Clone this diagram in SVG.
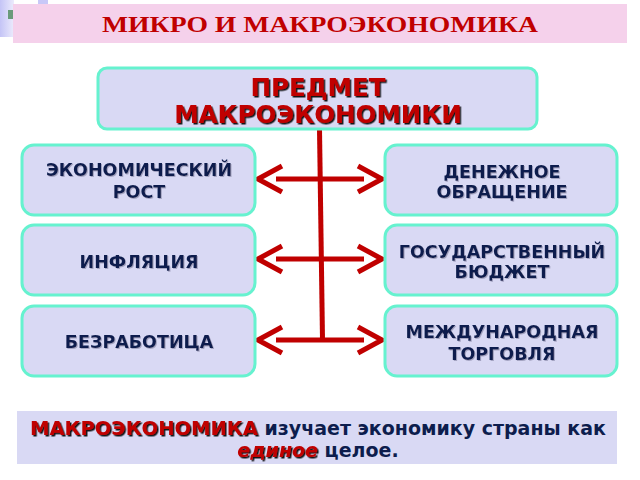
<svg xmlns="http://www.w3.org/2000/svg" width="640" height="480" viewBox="0 0 640 480">
  <defs>
    <linearGradient id="lav" x1="0" y1="0" x2="1" y2="0">
      <stop offset="0" stop-color="#c4c4f6"/>
      <stop offset="1" stop-color="#ecebfc"/>
    </linearGradient>
    <filter id="shRed" x="-5%" y="-20%" width="110%" height="150%">
      <feDropShadow dx="1.5" dy="1.5" stdDeviation="0.4" flood-color="#000000" flood-opacity="0.9"/>
    </filter>
    <filter id="shNavy" x="-5%" y="-20%" width="110%" height="150%">
      <feDropShadow dx="1" dy="1" stdDeviation="0.4" flood-color="#8080a0" flood-opacity="0.6"/>
    </filter>
  </defs>
  <style>
    .box { fill: #d9d9f4; stroke: #66f2cf; stroke-width: 3; }
    .lbl { font-family: "DejaVu Sans", Verdana, sans-serif; font-weight: bold; font-size: 17.5px; fill: #0d1d4d; text-anchor: middle; filter: url(#shNavy); }
    .red { font-family: "DejaVu Sans", Verdana, sans-serif; font-weight: bold; fill: #c00000; filter: url(#shRed); }
    .con { fill: none; stroke: #c00000; stroke-width: 5; stroke-linecap: butt; stroke-linejoin: miter; }
    .body { font-family: "DejaVu Sans", Verdana, sans-serif; font-weight: bold; font-size: 19px; fill: #0d1d4d; }
  </style>
  <rect width="640" height="480" fill="#ffffff"/>

  <!-- decoration -->
  <rect x="0" y="0" width="14" height="37" fill="url(#lav)"/>
  <rect x="38" y="0" width="10" height="5" fill="#c8c8f8"/>
  <rect x="8" y="10" width="6" height="9" fill="#6a9a7a"/>

  <g id="title">
    <rect x="13" y="4" width="614" height="39" fill="#f5d1eb"/>
    <text x="320" y="32" font-family="'Liberation Serif', 'Times New Roman', serif" font-weight="bold" font-size="23" fill="#c00000" text-anchor="middle" textLength="436" lengthAdjust="spacingAndGlyphs">МИКРО И МАКРОЭКОНОМИКА</text>
  </g>

  <g id="connectors">
    <line class="con" x1="319.5" y1="129" x2="322.5" y2="340"/>
    <line class="con" x1="276" y1="179" x2="364" y2="179"/>
    <line class="con" x1="276" y1="259" x2="364" y2="259"/>
    <line class="con" x1="276" y1="340" x2="364" y2="340"/>
    <polyline class="con" points="282,166 258,179 282,192"/>
    <polyline class="con" points="358,166 382,179 358,192"/>
    <polyline class="con" points="282,246 258,259 282,272"/>
    <polyline class="con" points="358,246 382,259 358,272"/>
    <polyline class="con" points="282,327 258,340 282,353"/>
    <polyline class="con" points="358,327 382,340 358,353"/>
  </g>

  <g id="subject">
    <rect class="box" x="98" y="68" width="439" height="61" rx="9"/>
    <text class="red" x="318" y="96" font-size="24.5" text-anchor="middle">ПРЕДМЕТ</text>
    <text class="red" x="318" y="123" font-size="24.5" text-anchor="middle">МАКРОЭКОНОМИКИ</text>
  </g>

  <g id="growth">
    <rect class="box" x="22" y="145" width="233" height="70" rx="12"/>
    <text class="lbl" x="139" y="176">ЭКОНОМИЧЕСКИЙ</text>
    <text class="lbl" x="139" y="198">РОСТ</text>
  </g>
  <g id="inflation">
    <rect class="box" x="22" y="225" width="233" height="70" rx="12"/>
    <text class="lbl" x="139" y="268">ИНФЛЯЦИЯ</text>
  </g>
  <g id="unemployment">
    <rect class="box" x="22" y="306" width="233" height="70" rx="12"/>
    <text class="lbl" x="139" y="348">БЕЗРАБОТИЦА</text>
  </g>
  <g id="money">
    <rect class="box" x="385" y="145" width="232" height="70" rx="12"/>
    <text class="lbl" x="502" y="178">ДЕНЕЖНОЕ</text>
    <text class="lbl" x="502" y="198">ОБРАЩЕНИЕ</text>
  </g>
  <g id="budget">
    <rect class="box" x="385" y="225" width="232" height="70" rx="12"/>
    <text class="lbl" x="502" y="258">ГОСУДАРСТВЕННЫЙ</text>
    <text class="lbl" x="502" y="278">БЮДЖЕТ</text>
  </g>
  <g id="trade">
    <rect class="box" x="385" y="306" width="232" height="70" rx="12"/>
    <text class="lbl" x="502" y="338">МЕЖДУНАРОДНАЯ</text>
    <text class="lbl" x="502" y="360">ТОРГОВЛЯ</text>
  </g>

  <g id="definition">
    <rect x="17" y="411" width="600" height="53" fill="#d9d9f4"/>
    <text class="body" x="318" y="435" text-anchor="middle"><tspan class="red" font-size="19.5">МАКРОЭКОНОМИКА</tspan> изучает экономику страны как</text>
    <text class="body" x="318" y="457" text-anchor="middle"><tspan class="red" font-style="italic" font-size="19">единое</tspan> целое.</text>
  </g>
</svg>
